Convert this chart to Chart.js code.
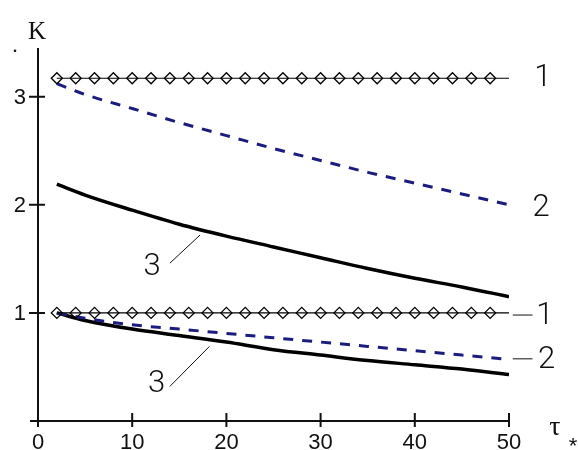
<!DOCTYPE html>
<html>
<head>
<meta charset="utf-8">
<script src="https://cdn.jsdelivr.net/npm/chart.js@4/dist/chart.umd.min.js"></script>
<style>
  html, body { margin: 0; padding: 0; background: #fff; }
  #wrap { width: 578px; height: 450px; }
</style>
</head>
<body>
<div id="wrap"><canvas id="c" width="578" height="450"></canvas></div>
<script>
// dimensionless time tau* (x) and coefficient kappa (y)
const tauMarks = [2, 4, 6, 8, 10, 12, 14, 16, 18, 20, 22, 24, 26, 28, 30, 32, 34, 36, 38, 40, 42, 44, 46, 48, 50];
const curve1Upper = 3.17;
const curve1Lower = 1.0;

const tauCurve = [2, 5, 10, 15, 20, 25, 30, 35, 40, 45, 50];
const curve2Upper = [3.12, 3.02, 2.89, 2.76, 2.64, 2.52, 2.41, 2.30, 2.20, 2.10, 2.00];
const curve3Upper = [2.19, 2.09, 1.95, 1.82, 1.71, 1.61, 1.51, 1.41, 1.32, 1.24, 1.15];
const curve2Lower = [1.00, 0.95, 0.89, 0.85, 0.81, 0.77, 0.73, 0.69, 0.65, 0.61, 0.57];
const curve3Lower = [1.00, 0.93, 0.85, 0.79, 0.73, 0.66, 0.61, 0.56, 0.52, 0.48, 0.43];

const xTicks = [0, 10, 20, 30, 40, 50];
const yTicks = [1, 2, 3];
const xRange = [0, 50];
const yRange = [0, 3.45];

// curve numbers: text, position, optional leader line (all in data units)
const curveLabels = [
  { text: '1', x: 53.6, y: 3.18, lead: null },
  { text: '2', x: 53.4, y: 1.98, lead: null },
  { text: '1', x: 53.8, y: 0.98, lead: [50.4, 0.98, 52.5, 0.98] },
  { text: '2', x: 54.0, y: 0.57, lead: [50.4, 0.575, 52.5, 0.575] },
  { text: '3', x: 12.1, y: 1.43, lead: [17.2, 1.72, 14.0, 1.46] },
  { text: '3', x: 12.6, y: 0.35, lead: [18.2, 0.69, 14.0, 0.32] }
];

const toXY = (xs, ys) => xs.map((x, i) => ({ x, y: ys[i] }));
const flat = (xs, v) => xs.map(x => ({ x, y: v }));

const INK = '#000';
const NAVY = '#1c1c80';

const diamondRadius = ctx => (ctx.dataIndex === tauMarks.length - 1 ? 0 : 5.5);

const axesPlugin = {
  id: 'mathAxes',
  beforeDatasetsDraw(chart) {
    const { ctx, scales: { x, y } } = chart;
    const x0 = x.getPixelForValue(0), y0 = y.getPixelForValue(0);
    const yTop = y.getPixelForValue(yRange[1]);
    ctx.save();
    ctx.strokeStyle = '#111';
    ctx.lineWidth = 2;
    ctx.beginPath();
    ctx.moveTo(x0, yTop); ctx.lineTo(x0, y0 + 5);
    ctx.moveTo(x0 - 8, y0); ctx.lineTo(x.getPixelForValue(xRange[1]), y0);
    xTicks.forEach(t => {
      const px = x.getPixelForValue(t);
      ctx.moveTo(px, y0 - 8); ctx.lineTo(px, y0 + 6);
    });
    yTicks.forEach(t => {
      const py = y.getPixelForValue(t);
      ctx.moveTo(x0 - 9, py); ctx.lineTo(x0 + 7, py);
    });
    ctx.stroke();

    ctx.fillStyle = '#111';
    ctx.font = '22px "Liberation Sans", Arial, sans-serif';
    ctx.textAlign = 'center';
    ctx.textBaseline = 'top';
    xTicks.forEach(t => ctx.fillText(String(t), x.getPixelForValue(t), y0 + 11));
    ctx.textAlign = 'right';
    ctx.textBaseline = 'middle';
    yTicks.forEach(t => ctx.fillText(String(t), x0 - 12, y.getPixelForValue(t) + 1));

    // axis titles
    ctx.font = '25px "Liberation Serif", "DejaVu Serif", serif';
    ctx.textAlign = 'center';
    ctx.textBaseline = 'alphabetic';
    ctx.fillText('K', x0 - 1, 39);
    ctx.font = '22px "Liberation Serif", serif';
    ctx.fillText('.', 15, 52);
    ctx.font = '28px "Liberation Serif", "DejaVu Serif", serif';
    ctx.fillText('τ', 555, 435);
    ctx.font = '22px "Liberation Sans", Arial, sans-serif';
    ctx.fillText('*', 573, 453);
    ctx.restore();
  },
  afterDatasetsDraw(chart) {
    const { ctx, scales: { x, y } } = chart;
    ctx.save();
    ctx.strokeStyle = '#111';
    ctx.fillStyle = '#111';
    ctx.lineWidth = 1;
    ctx.font = '300 31px Roboto, "Liberation Sans", sans-serif';
    ctx.textAlign = 'center';
    ctx.textBaseline = 'middle';
    curveLabels.forEach(l => {
      if (l.lead) {
        ctx.beginPath();
        ctx.moveTo(x.getPixelForValue(l.lead[0]), y.getPixelForValue(l.lead[1]));
        ctx.lineTo(x.getPixelForValue(l.lead[2]), y.getPixelForValue(l.lead[3]));
        ctx.stroke();
      }
      ctx.fillText(l.text, x.getPixelForValue(l.x), y.getPixelForValue(l.y) + 1);
    });
    ctx.restore();
  }
};

const diamondSet = v => ({
  data: flat(tauMarks, v),
  borderColor: INK,
  borderWidth: 1.2,
  pointStyle: 'rectRot',
  pointRadius: diamondRadius,
  pointBorderColor: INK,
  pointBorderWidth: 1.3,
  pointBackgroundColor: 'rgba(255,255,255,0)',
  tension: 0
});
const dashedSet = ys => ({
  data: toXY(tauCurve, ys),
  borderColor: NAVY,
  borderWidth: 3,
  borderDash: [10, 9],
  pointRadius: 0,
  tension: 0.3,
  cubicInterpolationMode: 'monotone'
});
const solidSet = ys => ({
  data: toXY(tauCurve, ys),
  borderColor: INK,
  borderWidth: 3.5,
  pointRadius: 0,
  tension: 0.3,
  cubicInterpolationMode: 'monotone'
});

new Chart(document.getElementById('c'), {
  type: 'line',
  data: {
    datasets: [
      diamondSet(curve1Upper),
      dashedSet(curve2Upper),
      solidSet(curve3Upper),
      diamondSet(curve1Lower),
      dashedSet(curve2Lower),
      solidSet(curve3Lower)
    ]
  },
  options: {
    responsive: false,
    animation: false,
    devicePixelRatio: 1,
    layout: { padding: { left: 38, right: 69, top: 48, bottom: 29 } },
    plugins: { legend: { display: false }, tooltip: { enabled: false } },
    scales: {
      x: { type: 'linear', min: xRange[0], max: xRange[1], display: false },
      y: { type: 'linear', min: yRange[0], max: yRange[1], display: false }
    }
  },
  plugins: [axesPlugin]
});
</script>
</body>
</html>
